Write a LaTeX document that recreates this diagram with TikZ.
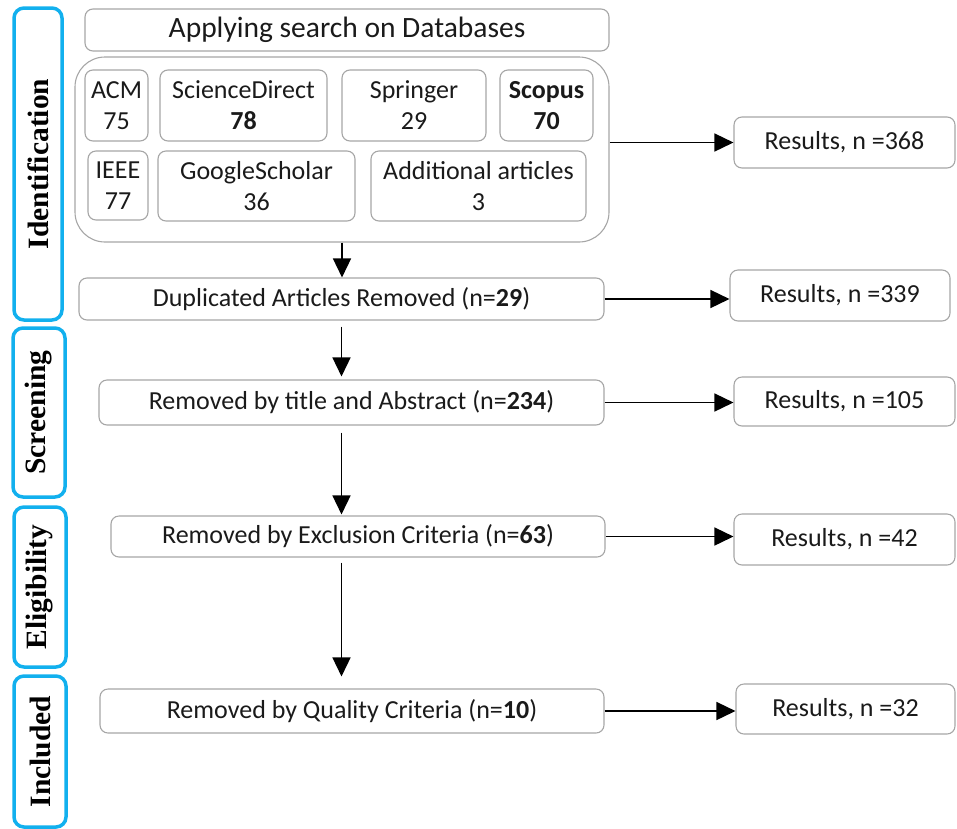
\documentclass[tikz,border=0pt]{standalone}
\usepackage{fontspec}
\setmainfont{Carlito}
\newfontfamily\sidefont{Liberation Serif}
\usetikzlibrary{arrows.meta}
\definecolor{boxgray}{HTML}{A6A6A6}
\definecolor{sideblue}{HTML}{12B0EE}
\definecolor{txt}{HTML}{1A1A1A}
\begin{document}
\begin{tikzpicture}[x=1pt,y=-1pt,
  box/.style={draw=boxgray, line width=1.1pt, rounded corners=8pt, inner sep=0pt,
    align=center, text=txt, font=\fontsize{26}{31}\selectfont},
  sidebox/.style={draw=sideblue, line width=3.5pt, rounded corners=10pt, inner sep=0pt,
    rotate=90, font=\sidefont\bfseries\fontsize{29.5}{30}\selectfont},
  arr/.style={line width=1.5pt, -{Triangle[length=19pt,width=18pt]}}]
\useasboundingbox (0,0) rectangle (957,828);
% side phase labels
\node[sidebox, minimum width=312, minimum height=48] (id) at (38,164) {Identification};
\node[sidebox, minimum width=169, minimum height=52] (sc) at (39,412.5) {Screening};
\node[sidebox, minimum width=160, minimum height=52] (el) at (40,587) {Eligibility};
\node[sidebox, minimum width=151, minimum height=52] (inc) at (40,751.5) {Included};
% search block
\node[box, minimum width=524, minimum height=42, font=\fontsize{29.5}{31}\selectfont] (search) at (347,30) {Applying search on Databases};
\node[box, rounded corners=30pt, minimum width=534, minimum height=185] (cont) at (342,149.5) {};
\node[box, minimum width=63, minimum height=71] (acm) at (116.5,105.5) {ACM\\75};
\node[box, minimum width=167, minimum height=71] (sd) at (243.5,105.5) {ScienceDirect\\\textbf{78}};
\node[box, minimum width=144, minimum height=71] (spr) at (414,105.5) {Springer\\29};
\node[box, minimum width=93, minimum height=71] (scop) at (546.5,105.5) {\textbf{Scopus}\\\textbf{70}};
\node[box, minimum width=60, minimum height=69] (ieee) at (118,185.5) {IEEE\\77};
\node[box, minimum width=197, minimum height=70] (gs) at (256.5,186) {GoogleScholar\\36};
\node[box, minimum width=215, minimum height=70] (add) at (478.5,186) {Additional articles\\3};
% main flow
\node[box, minimum width=525, minimum height=42] (dup) at (341.5,299) {Duplicated Articles Removed (n=\textbf{29})};
\node[box, minimum width=505, minimum height=45] (title) at (351.5,402.5) {Removed by title and Abstract (n=\textbf{234})};
\node[box, minimum width=494, minimum height=41] (excl) at (358,536.5) {Removed by Exclusion Criteria (n=\textbf{63})};
\node[box, minimum width=504, minimum height=44] (qual) at (352,711) {Removed by Quality Criteria (n=\textbf{10})};
% results
\node[box, minimum width=221, minimum height=51] (r1) at (844.5,142.5) {Results, n =368};
\node[box, minimum width=220, minimum height=51] (r2) at (840,295.5) {Results, n =339};
\node[box, minimum width=221, minimum height=49] (r3) at (844.5,401.5) {Results, n =105};
\node[box, minimum width=221, minimum height=51] (r4) at (844.5,539.5) {Results, n =42};
\node[box, minimum width=219, minimum height=50] (r5) at (845.5,709) {Results, n =32};
% connectors
\draw[arr] (cont.east |- r1.west) -- (r1.west);
\draw[arr] (cont.south) -- (cont.south |- dup.north);
\draw[arr] (dup.east) -- (dup.east -| r2.west);
\draw[arr, shorten <=6pt, shorten >=3pt] (dup.south) -- (dup.south |- title.north);
\draw[arr] (title.east) -- (title.east -| r3.west);
\draw[arr, shorten <=7pt, shorten >=1pt] (title.south -| dup.south) -- (dup.south |- excl.north);
\draw[arr] (excl.east) -- (excl.east -| r4.west);
\draw[arr, shorten <=5pt, shorten >=12pt] (excl.south -| dup.south) -- (dup.south |- qual.north);
\draw[arr] (qual.east) -- (qual.east -| r5.west);
\end{tikzpicture}
\end{document}
